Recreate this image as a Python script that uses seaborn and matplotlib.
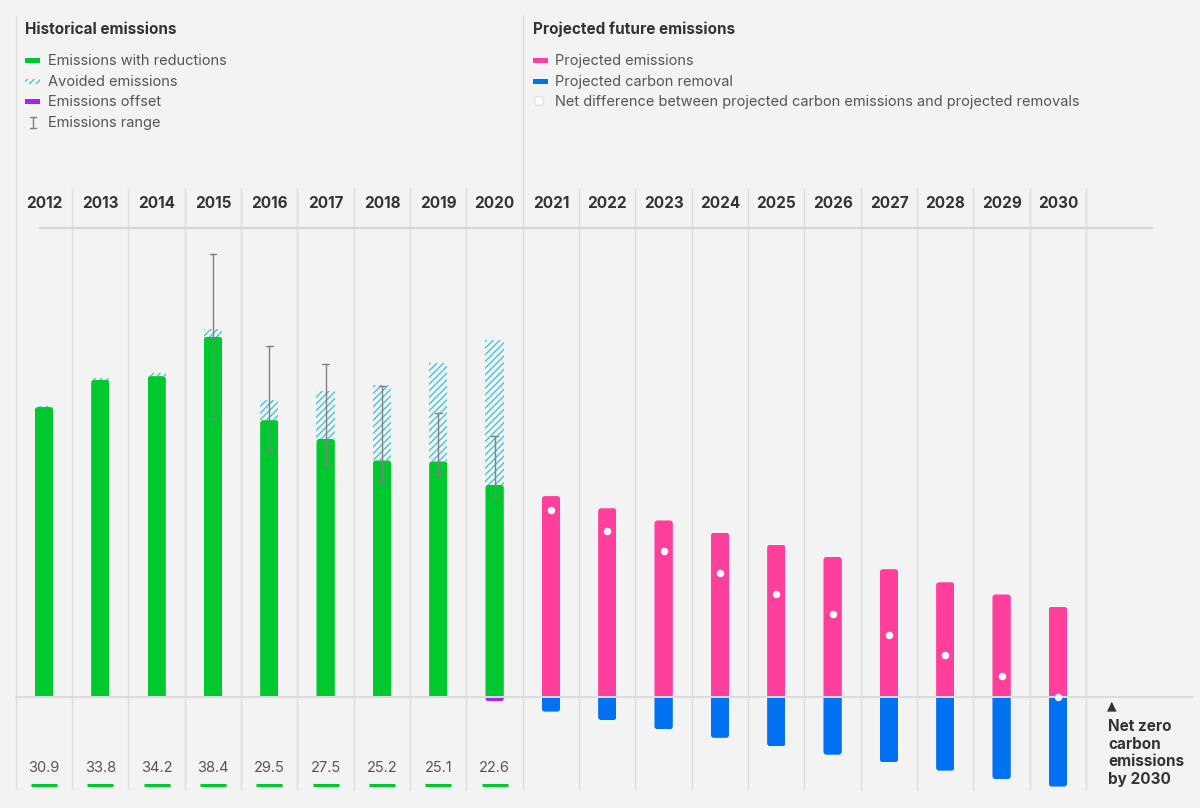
import numpy as np
import pandas as pd
import matplotlib
matplotlib.use("Agg")
import matplotlib.pyplot as plt
import seaborn as sns
from matplotlib.patches import FancyBboxPatch, Rectangle, Circle

# ---------------- data ----------------
hist_years = ["2012", "2013", "2014", "2015", "2016", "2017", "2018", "2019", "2020"]
future_years = ["2021", "2022", "2023", "2024", "2025", "2026", "2027", "2028", "2029", "2030"]
all_years = hist_years + future_years

emissions_with_reductions = [30.9, 33.8, 34.2, 38.4, 29.5, 27.5, 25.2, 25.1, 22.6]
avoided_emissions = [0.1, 0.2, 0.3, 0.8, 2.2, 5.1, 8.1, 10.5, 15.5]
offset_years = ["2020"]
emissions_offset = [-0.5]
range_years = ["2015", "2016", "2017", "2018", "2019", "2020"]
range_low = [29.6, 26.3, 24.7, 22.9, 23.8, 21.3]
range_high = [47.2, 37.4, 35.5, 33.2, 30.3, 27.8]

projected_emissions = [21.4, 20.1, 18.8, 17.5, 16.2, 14.9, 13.6, 12.2, 10.9, 9.6]
projected_removal = [1.6, 2.5, 3.5, 4.4, 5.3, 6.2, 7.0, 7.9, 8.8, 9.6]
net_difference = [19.9, 17.7, 15.5, 13.2, 11.0, 8.8, 6.6, 4.4, 2.2, 0.0]

value_labels = ["30.9", "33.8", "34.2", "38.4", "29.5", "27.5", "25.2", "25.1", "22.6"]

# ---------------- style ----------------
BG = "#f3f3f3"
GREEN = "#00c92f"
CYAN = "#45c6d8"
PURPLE = "#a622f5"
PINK = "#ff3f9b"
BLUE = "#0071f0"
GRID = "#dcdcdc"
DARK = "#333333"
GREY = "#555555"

sns.set_theme(style="white")
plt.rcParams["font.family"] = ["Inter", "DejaVu Sans"]
plt.rcParams["hatch.linewidth"] = 1.0

W, H = 1200, 808
fig = plt.figure(figsize=(W / 100, H / 100), dpi=100, facecolor=BG)
ax = fig.add_axes([0, 0, 1, 1])
ax.set_facecolor(BG)

# pixel geometry of the data area
X0, DX = 44.0, 56.33     # centre of first column, column pitch (px)
Y0, DY = 696.6, 9.37     # zero line (px from top), px per unit


def xd(px):
    return (px - X0) / DX


def yd(py):
    return (Y0 - py) / DY


BAR_W = 0.325

# avoided emissions (hatched), stacked on top of reductions
sns.barplot(x=hist_years, y=avoided_emissions, order=all_years, width=BAR_W,
            color=CYAN, errorbar=None, bottom=emissions_with_reductions, ax=ax, zorder=2)
for p in ax.containers[-1].patches:
    p.set_facecolor("none")
    p.set_edgecolor(CYAN)
    p.set_linewidth(0)
    p.set_hatch("/////")

sns.barplot(x=hist_years, y=emissions_with_reductions, order=all_years, width=BAR_W,
            color=GREEN, errorbar=None, ax=ax, zorder=3)
green_c = ax.containers[-1]
sns.barplot(x=offset_years, y=emissions_offset, order=all_years, width=BAR_W,
            color=PURPLE, errorbar=None, ax=ax, zorder=3)
purple_c = ax.containers[-1]
sns.barplot(x=future_years, y=projected_emissions, order=all_years, width=BAR_W,
            color=PINK, errorbar=None, ax=ax, zorder=3)
pink_c = ax.containers[-1]
sns.barplot(x=future_years, y=[-v for v in projected_removal], order=all_years, width=BAR_W,
            color=BLUE, errorbar=None, ax=ax, zorder=3)
blue_c = ax.containers[-1]

R_PX = 3.0
rx, ry = R_PX / DX, R_PX / DY


def round_outer(container, color):
    for rect in container.patches:
        x0, y0 = rect.get_x(), rect.get_y()
        w, h = rect.get_width(), rect.get_height()
        if h < 0:
            y0, h = y0 + h, -h
            top = False
        else:
            top = True
        rect.set_visible(False)
        if top:
            ey0, eh = y0 - 2 * ry, h + 2 * ry
        else:
            ey0, eh = y0, h + 2 * ry
        fb = FancyBboxPatch((x0, ey0), w, eh,
                            boxstyle=f"round,pad=0,rounding_size={rx}",
                            mutation_aspect=ry / rx, fc=color, ec="none", lw=0, zorder=3)
        ax.add_patch(fb)
        clip = Rectangle((x0, y0), w, h, transform=ax.transData)
        fb.set_clip_path(clip)


round_outer(green_c, GREEN)
round_outer(purple_c, PURPLE)
round_outer(pink_c, PINK)
round_outer(blue_c, BLUE)

# emissions range (min..max)
rng = pd.DataFrame({"year": range_years * 2, "value": range_low + range_high})
sns.pointplot(data=rng, x="year", y="value", order=all_years, errorbar=("pi", 100),
              capsize=0.12, color="#808080", marker="", linestyle="none",
              err_kws={"linewidth": 1.0, "zorder": 6}, ax=ax)

# net difference dots
sns.stripplot(x=future_years, y=net_difference, order=all_years, jitter=False,
              color="white", size=5.4, linewidth=0, ax=ax, zorder=7)

# grid / structure lines
n = len(all_years)
for k in range(n + 1):
    xb = k - 0.5
    top = yd(15) if k in (0, len(hist_years)) else yd(188)
    ax.plot([xb, xb], [yd(790), top], color=GRID, lw=1, zorder=1, solid_capstyle="butt")
ax.plot([xd(40), xd(1152)], [yd(227.5), yd(227.5)], color="#d6d6d6", lw=1.6, zorder=1)
ax.plot([-0.5, xd(1193)], [0, 0], color=GRID, lw=1.4, zorder=4)

ax.set_xlim(xd(0), xd(W))
ax.set_ylim(yd(H), yd(0))
ax.axis("off")

# year labels and value labels
for i, yr in enumerate(all_years):
    ax.text(i, yd(203), yr, ha="center", va="center", fontsize=11, fontweight="bold",
            color=DARK, zorder=8)
for i, lab in enumerate(value_labels):
    ax.text(i, yd(768), lab, ha="center", va="center", fontsize=10.5, color=GREY, zorder=8)
    ax.plot([i - 0.23, i + 0.23], [yd(785), yd(785)], color=GREEN, lw=2.2,
            solid_capstyle="butt", zorder=8)

# ---------------- overlay for legends / annotation (pixel coords) ----------------
ov = fig.add_axes([0, 0, 1, 1], zorder=10)
ov.set_xlim(0, W)
ov.set_ylim(H, 0)
ov.axis("off")
ov.patch.set_alpha(0)

ov.text(25, 29, "Historical emissions", fontsize=11, fontweight="bold", color=DARK,
        ha="left", va="center")
ov.text(533, 29, "Projected future emissions", fontsize=11, fontweight="bold", color=DARK,
        ha="left", va="center")

hist_items = ["Emissions with reductions", "Avoided emissions", "Emissions offset", "Emissions range"]
hist_rows = [61, 82, 102, 123]
for lab, yy in zip(hist_items, hist_rows):
    ov.text(48, yy, lab, fontsize=10.5, color=GREY, ha="left", va="center")
ov.add_patch(Rectangle((25, 57.5), 15, 5, fc=GREEN, ec="none"))
ov.add_patch(Rectangle((25, 78.5), 15, 5, fc="none", ec=CYAN, lw=0, hatch="/////"))
ov.add_patch(Rectangle((25, 98.5), 15, 5, fc=PURPLE, ec="none"))
ov.plot([32.5, 32.5], [116.5, 128], color="#808080", lw=1)
ov.plot([29.5, 35.5], [116.5, 116.5], color="#808080", lw=1)
ov.plot([29.5, 35.5], [128, 128], color="#808080", lw=1)

proj_items = ["Projected emissions", "Projected carbon removal",
              "Net difference between projected carbon emissions and projected removals"]
proj_rows = [61, 82, 102]
for lab, yy in zip(proj_items, proj_rows):
    ov.text(555, yy, lab, fontsize=10.5, color=GREY, ha="left", va="center")
ov.add_patch(Rectangle((533, 57.5), 15, 5, fc=PINK, ec="none"))
ov.add_patch(Rectangle((533, 78.5), 15, 5, fc=BLUE, ec="none"))
ov.add_patch(Circle((539, 101), 4.8, fc="white", ec="#dddddd", lw=0.8))

ov.text(1112, 706, "▲", fontsize=9, color=DARK, ha="center", va="center",
        family=["DejaVu Sans"])
ov.text(1108, 719, "Net zero\ncarbon\nemissions\nby 2030", fontsize=11, fontweight="bold",
        color=DARK, ha="left", va="top", linespacing=1.22)

fig.savefig("out.png", dpi=100, facecolor=BG)
